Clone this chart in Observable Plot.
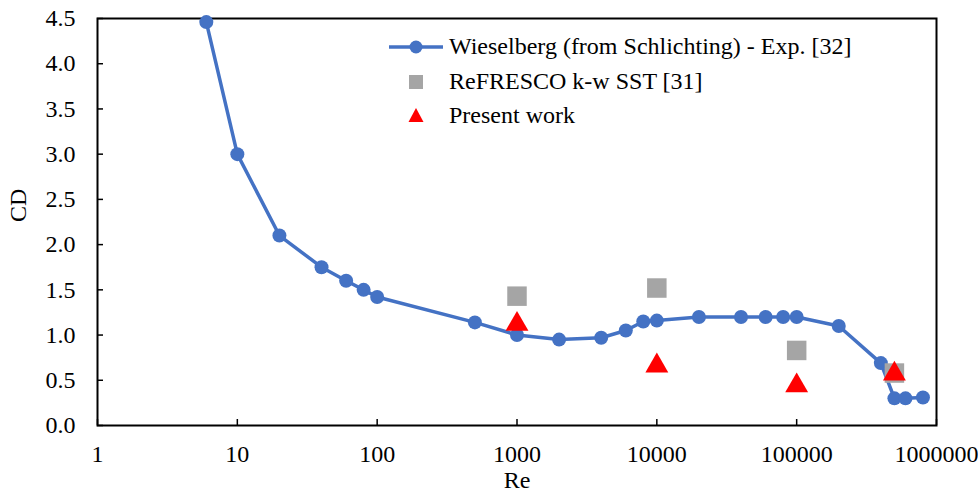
<!DOCTYPE html>
<html>
<head>
<meta charset="utf-8">
<script src="https://cdn.jsdelivr.net/npm/d3@7"></script>
<script src="https://cdn.jsdelivr.net/npm/@observablehq/plot@0.6"></script>
<style>
  html, body { margin: 0; padding: 0; background: #fff; }
  #wrap { position: relative; width: 978px; height: 497px; font-family: "Liberation Serif", "Times New Roman", serif; }
  #legend { position: absolute; left: 0; top: 0; width: 978px; height: 497px; pointer-events: none; }
  .lg { position: absolute; font-size: 24px; color: #000; white-space: nowrap; line-height: 1; }
</style>
</head>
<body>
<div id="wrap"></div>
<script>
// Wieselberg (from Schlichting) - Exp. [32]
const wiesRe = [6, 10, 20, 40, 60, 80, 100, 500, 1000, 2000, 4000, 6000, 8000, 10000, 20000, 40000, 60000, 80000, 100000, 200000, 400000, 500000, 600000, 800000];
const wiesCD = [4.46, 3.0, 2.1, 1.75, 1.6, 1.5, 1.42, 1.14, 1.0, 0.95, 0.97, 1.05, 1.15, 1.16, 1.2, 1.2, 1.2, 1.2, 1.2, 1.1, 0.69, 0.3, 0.3, 0.31];
// ReFRESCO k-w SST [31]
const refRe = [1000, 10000, 100000, 500000];
const refCD = [1.43, 1.52, 0.83, 0.58];
// Present work
const presRe = [1000, 10000, 100000, 500000];
const presCD = [1.12, 0.66, 0.44, 0.57];

const xTicks = [1, 10, 100, 1000, 10000, 100000, 1000000];
const yTicks = [0, 0.5, 1, 1.5, 2, 2.5, 3, 3.5, 4, 4.5];

const legendLabels = ["Wieselberg (from Schlichting) - Exp. [32]", "ReFRESCO k-w SST [31]", "Present work"];

const wies = wiesRe.map((r, i) => ({Re: r, CD: wiesCD[i]}));
const ref = refRe.map((r, i) => ({Re: r, CD: refCD[i]}));
const pres = presRe.map((r, i) => ({Re: r, CD: presCD[i]}));

const blue = "#4472C4", gray = "#A5A5A5", red = "#FF0000";

const chart = Plot.plot({
  width: 978,
  height: 497,
  marginLeft: 97,
  marginRight: 42,
  marginTop: 18,
  marginBottom: 72,
  style: {fontFamily: "'Liberation Serif', 'Times New Roman', serif", fontSize: "24px", color: "#000", background: "#fff"},
  x: {type: "log", domain: [1, 1000000]},
  y: {domain: [0, 4.5]},
  marks: [
    Plot.axisX({ticks: xTicks, tickFormat: d => String(d), tickSize: -6, tickPadding: 25, label: null, stroke: "#000", strokeWidth: 1.5, fill: "#000"}),
    Plot.axisY({ticks: yTicks, tickFormat: d => d.toFixed(1), tickSize: -6, tickPadding: 28, label: null, stroke: "#000", strokeWidth: 1.5, fill: "#000"}),
    Plot.frame({stroke: "#000", strokeWidth: 2}),
    Plot.line(wies, {x: "Re", y: "CD", stroke: blue, strokeWidth: 3.5}),
    Plot.dot(wies, {x: "Re", y: "CD", r: 7, fill: blue}),
    Plot.dot(ref, {x: "Re", y: "CD", symbol: "square", r: 11, fill: gray}),
    Plot.dot(pres, {x: "Re", y: "CD", symbol: "triangle", r: 8.5, fill: red}),
    Plot.text(["CD"], {frameAnchor: "left", dx: -79, rotate: -90, text: d => d, fill: "#000"}),
    Plot.text(["Re"], {frameAnchor: "bottom", dy: 62, text: d => d, fill: "#000"})
  ]
});
const wrap = document.getElementById("wrap");
wrap.appendChild(chart);

// legend overlay
const lg = document.createElement("div");
lg.id = "legend";
lg.innerHTML = `
<svg width="978" height="497" style="position:absolute;left:0;top:0">
  <line x1="389" y1="47" x2="443" y2="47" stroke="${blue}" stroke-width="3.5"/>
  <circle cx="416" cy="47" r="6.5" fill="${blue}"/>
  <rect x="409" y="75" width="14" height="14" fill="${gray}"/>
  <path d="M416,108 L423.5,122 L408.5,122 Z" fill="${red}"/>
</svg>
<div class="lg" style="left:449px;top:34px">${legendLabels[0]}</div>
<div class="lg" style="left:449px;top:69px">${legendLabels[1]}</div>
<div class="lg" style="left:449px;top:103px">${legendLabels[2]}</div>
`;
wrap.appendChild(lg);
</script>
</body>
</html>
